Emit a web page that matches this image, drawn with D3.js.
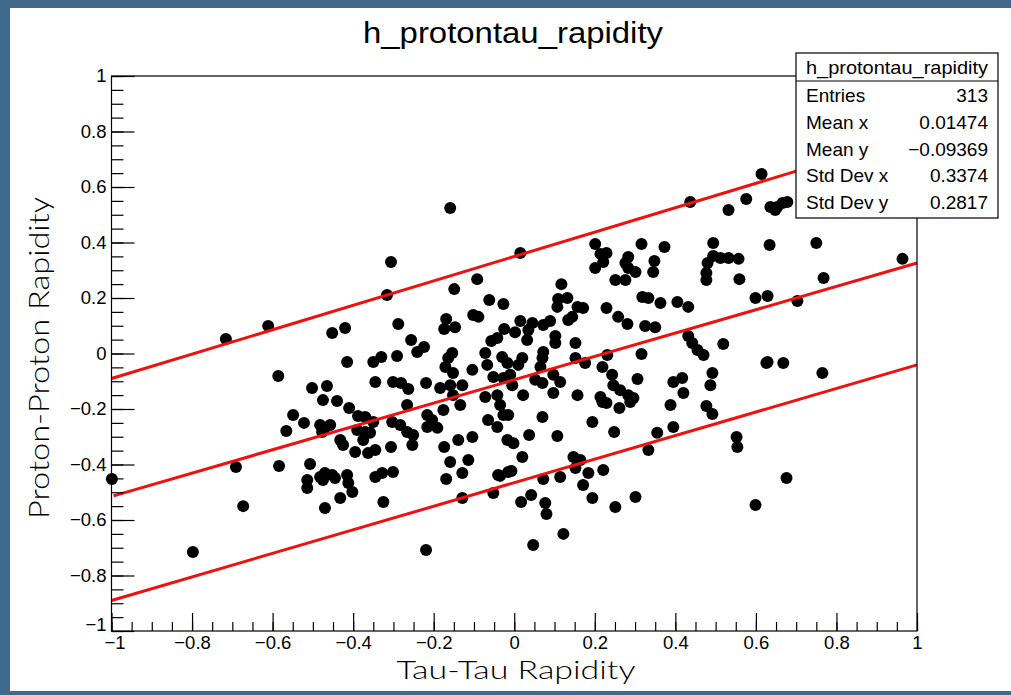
<!DOCTYPE html>
<html>
<head>
<meta charset="utf-8">
<script src="https://cdn.jsdelivr.net/npm/d3@7"></script>
<style>
  html, body { margin: 0; padding: 0; background: #3f6a8b; }
  svg { display: block; }
</style>
</head>
<body>
<svg id="chart"></svg>
<script>
// values
const chartTitle = "h_protontau_rapidity";
const xTitle = "Tau-Tau Rapidity";
const yTitle = "Proton-Proton Rapidity";

const majorTicks = [-1, -0.8, -0.6, -0.4, -0.2, 0, 0.2, 0.4, 0.6, 0.8, 1];

const statsLabels = ["Entries", "Mean x", "Mean y", "Std Dev x", "Std Dev y"];
const statsValues = ["313", "0.01474", "\u22120.09369", "0.3374", "0.2817"];

// [tau-tau rapidity, proton-proton rapidity]
const entries = [
  [-0.306,0.330],[-0.316,0.211],[-0.611,0.099],[-0.452,0.074],[-0.420,0.092],[-0.288,0.106],
  [-0.586,-0.081],[-0.502,-0.124],[-0.465,-0.117],[-0.415,-0.031],[-0.350,-0.031],[-0.330,-0.013],
  [-0.291,-0.009],[-0.256,0.049],[-0.241,0.005],[-0.224,0.023],[-0.345,-0.103],[-0.301,-0.103],
  [-0.281,-0.106],[-0.263,-0.128],[-0.219,-0.106],[-0.184,-0.124],[-0.149,0.232],[-0.092,0.268],
  [-0.062,0.193],[-0.027,0.178],[-0.169,0.124],[-0.174,0.088],[-0.147,0.095],[-0.102,0.139],
  [-0.089,0.132],[-0.025,0.088],[-0.057,0.045],[-0.042,0.056],[-0.154,0.002],[-0.164,-0.016],
  [-0.171,-0.049],[-0.152,-0.070],[-0.159,-0.114],[-0.129,-0.114],[-0.104,-0.059],[-0.072,0.002],
  [-0.067,-0.041],[-0.030,-0.013],[-0.017,-0.034],[-0.052,-0.085],[-0.027,-0.088],[-0.072,-0.157],
  [-0.042,-0.150],[-0.475,-0.168],[-0.440,-0.171],[-0.410,-0.196],[-0.549,-0.222],[-0.522,-0.250],
  [-0.566,-0.279],[-0.482,-0.258],[-0.470,-0.268],[-0.457,-0.258],[-0.477,-0.283],[-0.388,-0.225],
  [-0.370,-0.229],[-0.350,-0.247],[-0.390,-0.276],[-0.370,-0.283],[-0.358,-0.286],[-0.375,-0.312],
  [-0.432,-0.312],[-0.425,-0.330],[-0.395,-0.355],[-0.363,-0.359],[-0.345,-0.348],[-0.306,-0.337],
  [-0.266,-0.186],[-0.303,-0.247],[-0.283,-0.258],[-0.266,-0.283],[-0.251,-0.294],[-0.253,-0.330],
  [-0.216,-0.222],[-0.204,-0.240],[-0.216,-0.265],[-0.191,-0.268],[-0.176,-0.204],[-0.152,-0.150],
  [-0.134,-0.186],[-0.035,-0.186],[-0.027,-0.222],[-0.065,-0.240],[-0.042,-0.265],[-0.139,-0.312],
  [-0.104,-0.301],[-0.017,-0.312],[-0.174,-0.337],[-0.159,-0.391],[-0.114,-0.384],[-0.129,-0.431],
  [-0.169,-0.452],[-0.129,-0.521],[-0.052,-0.503],[-0.040,-0.438],[-0.015,-0.427],[-0.584,-0.405],
  [-0.507,-0.398],[-0.673,-0.550],[-0.514,-0.456],[-0.514,-0.485],[-0.482,-0.445],[-0.470,-0.431],
  [-0.452,-0.438],[-0.445,-0.449],[-0.475,-0.456],[-0.415,-0.438],[-0.412,-0.467],[-0.402,-0.499],
  [-0.432,-0.521],[-0.470,-0.557],[-0.345,-0.445],[-0.328,-0.431],[-0.301,-0.427],[-0.325,-0.535],
  [-0.219,-0.708],
  [0.015,0.362],[0.201,0.395],[0.214,0.359],[0.229,0.362],[0.201,0.308],[0.221,0.330],
  [0.316,0.395],[0.373,0.384],[0.348,0.333],[0.283,0.348],[0.276,0.326],[0.283,0.308],
  [0.301,0.294],[0.345,0.294],[0.251,0.265],[0.276,0.265],[0.494,0.398],[0.634,0.391],
  [0.494,0.351],[0.480,0.326],[0.512,0.344],[0.532,0.344],[0.557,0.341],[0.477,0.290],
  [0.477,0.265],[0.559,0.268],[0.599,0.200],[0.629,0.207],[0.117,0.250],[0.109,0.196],
  [0.132,0.200],[0.107,0.168],[0.157,0.168],[0.171,0.164],[0.144,0.132],[0.134,0.121],
  [0.229,0.164],[0.318,0.204],[0.333,0.200],[0.363,0.182],[0.405,0.186],[0.432,0.168],
  [0.258,0.132],[0.281,0.106],[0.325,0.099],[0.350,0.095],[0.432,0.063],[0.442,0.038],
  [0.455,0.013],[0.470,-0.005],[0.519,0.034],[0.626,-0.034],[0.015,0.117],[0.045,0.110],
  [0.072,0.103],[0.089,0.117],[0.035,0.085],[0.032,0.049],[0.002,0.077],[0.102,0.063],
  [0.102,0.038],[0.152,0.038],[0.072,0.005],[0.070,-0.016],[0.020,-0.016],[0.010,-0.041],
  [0.065,-0.049],[0.152,-0.016],[0.176,-0.034],[0.231,-0.005],[0.316,-0.002],[0.219,-0.049],
  [0.097,-0.077],[0.114,-0.103],[0.243,-0.077],[0.246,-0.114],[0.306,-0.092],[0.395,-0.103],
  [0.417,-0.088],[0.492,-0.070],[0.487,-0.114],[0.420,-0.142],[-0.010,-0.077],[-0.005,-0.114],
  [0.022,-0.150],[0.052,-0.095],[0.070,-0.106],[0.097,-0.142],[0.157,-0.150],[0.214,-0.157],
  [0.263,-0.132],[0.283,-0.150],[0.219,-0.175],[0.229,-0.178],[0.261,-0.196],[0.288,-0.175],
  [0.296,-0.160],[0.388,-0.186],[0.477,-0.189],[0.492,-0.218],[-0.015,-0.222],[0.070,-0.229],
  [0.194,-0.247],[0.037,-0.294],[0.107,-0.297],[-0.002,-0.323],[0.248,-0.283],[0.355,-0.286],
  [0.395,-0.265],[0.333,-0.348],[0.552,-0.301],[0.554,-0.337],[0.020,-0.373],[0.147,-0.373],
  [0.164,-0.384],[0.152,-0.413],[0.184,-0.431],[0.221,-0.420],[0.114,-0.445],[0.072,-0.452],
  [-0.007,-0.423],[-0.035,-0.441],[0.171,-0.474],[0.042,-0.510],[0.017,-0.535],[0.077,-0.539],
  [0.080,-0.578],[0.194,-0.521],[0.251,-0.553],[0.301,-0.517],[0.599,-0.546],[0.122,-0.650],
  [0.047,-0.690],
  [-0.159,0.524],[-0.716,0.052],[-0.999,-0.452],[-0.691,-0.409],[-0.798,-0.715],[0.614,0.647],
  [0.576,0.557],[0.532,0.517],[0.437,0.546],[0.636,0.528],[0.653,0.528],[0.666,0.542],
  [0.678,0.546],[0.648,0.517],[0.750,0.398],[0.964,0.341],[0.768,0.272],[0.703,0.189],
  [0.629,-0.031],[0.668,-0.034],[0.765,-0.070],[0.676,-0.449]
];

// red band lines: x ends and y ends
const bandX = [[-1, 1], [-0.995, 1], [-1, 1]];
const bandY = [[-0.09, 0.789], [-0.513, 0.326], [-0.89, -0.041]];

const W = 1011, H = 695;
const frame = { left: 111.5, right: 917, top: 76, bottom: 631 };

const svg = d3.select("#chart").attr("width", W).attr("height", H);

svg.append("rect").attr("width", W).attr("height", H).attr("fill", "#3f6a8b");
svg.append("rect")
  .attr("x", 10).attr("y", 8)
  .attr("width", W - 10).attr("height", 683)
  .attr("fill", "#ffffff");

const x = d3.scaleLinear().domain([-1, 1]).range([frame.left, frame.right]);
const y = d3.scaleLinear().domain([-1, 1]).range([frame.bottom, frame.top]);

const fmt = d3.format("~g");
const minorTicks = d3.range(-20, 21).map((i) => i / 20);

// markers
svg.append("g")
  .selectAll("circle")
  .data(entries)
  .join("circle")
  .attr("cx", (d) => x(d[0]))
  .attr("cy", (d) => y(d[1]))
  .attr("r", 6)
  .attr("fill", "#000");

// band lines
const lineGen = d3.line().x((d) => x(d[0])).y((d) => y(d[1]));
svg.append("g")
  .selectAll("path")
  .data(bandX.map((xs, i) => [[xs[0], bandY[i][0]], [xs[1], bandY[i][1]]]))
  .join("path")
  .attr("d", lineGen)
  .attr("fill", "none")
  .attr("stroke", "#f01010")
  .attr("stroke-width", 3);

// axes, ROOT style ticks pointing inward
const axisFont = "'Liberation Sans', Arial, Helvetica, sans-serif";

const xMinor = svg.append("g")
  .attr("transform", `translate(0,${frame.bottom})`)
  .call(d3.axisBottom(x).tickValues(minorTicks).tickSize(-9).tickFormat(""));
const xMajor = svg.append("g")
  .attr("transform", `translate(0,${frame.bottom})`)
  .call(d3.axisBottom(x).tickValues(majorTicks).tickSize(-18).tickPadding(5).tickFormat(fmt));
const yMinor = svg.append("g")
  .attr("transform", `translate(${frame.left},0)`)
  .call(d3.axisLeft(y).tickValues(minorTicks).tickSize(-12).tickFormat(""));
const yMajor = svg.append("g")
  .attr("transform", `translate(${frame.left},0)`)
  .call(d3.axisLeft(y).tickValues(majorTicks).tickSize(-23).tickPadding(5).tickFormat(fmt));

[xMinor, xMajor, yMinor, yMajor].forEach((g) => {
  g.select(".domain").remove();
  g.selectAll("line").attr("stroke", "#000").attr("stroke-width", 1.2);
  g.selectAll("text")
    .attr("fill", "#000")
    .attr("font-family", axisFont)
    .attr("font-size", 18.5);
});
xMajor.selectAll("text").attr("dy", "0.9em").attr("y", 1);
// corner labels nudged apart like ROOT does
xMajor.selectAll("text").filter((d) => d === -1).attr("x", 3);
yMajor.selectAll("text").filter((d) => d === -1).attr("y", -6);

svg.append("rect")
  .attr("x", frame.left).attr("y", frame.top)
  .attr("width", frame.right - frame.left)
  .attr("height", frame.bottom - frame.top)
  .attr("fill", "none")
  .attr("stroke", "#000")
  .attr("stroke-width", 1.2);

// title
svg.append("text")
  .attr("x", 513).attr("y", 43)
  .attr("text-anchor", "middle")
  .attr("font-family", axisFont)
  .attr("font-size", 30)
  .attr("textLength", 300)
  .attr("lengthAdjust", "spacingAndGlyphs")
  .text(chartTitle);

// axis titles
const titleFont = "Lato, 'Open Sans', sans-serif";
svg.append("text")
  .attr("x", 516).attr("y", 679)
  .attr("text-anchor", "middle")
  .attr("font-family", titleFont)
  .attr("font-weight", 300)
  .attr("font-size", 26)
  .attr("textLength", 239)
  .attr("lengthAdjust", "spacingAndGlyphs")
  .text(xTitle);

svg.append("text")
  .attr("transform", "translate(49,358) rotate(-90)")
  .attr("text-anchor", "middle")
  .attr("font-family", titleFont)
  .attr("font-weight", 300)
  .attr("font-size", 27)
  .attr("textLength", 322)
  .attr("lengthAdjust", "spacingAndGlyphs")
  .text(yTitle);

// stats box
const box = { x: 796, y: 53, w: 202, h: 165, head: 28 };
const stats = svg.append("g");
stats.append("rect")
  .attr("x", box.x).attr("y", box.y)
  .attr("width", box.w).attr("height", box.h)
  .attr("fill", "#fff")
  .attr("stroke", "#000")
  .attr("stroke-width", 1.2);
stats.append("line")
  .attr("x1", box.x).attr("x2", box.x + box.w)
  .attr("y1", box.y + box.head).attr("y2", box.y + box.head)
  .attr("stroke", "#000").attr("stroke-width", 1.2);
stats.append("text")
  .attr("x", box.x + box.w / 2).attr("y", box.y + 21)
  .attr("text-anchor", "middle")
  .attr("font-family", axisFont)
  .attr("font-size", 18.5)
  .attr("textLength", 182)
  .attr("lengthAdjust", "spacingAndGlyphs")
  .text(chartTitle);

const rowY = d3.scalePoint().domain(statsLabels).range([box.y + 49, box.y + 156]);
stats.selectAll("text.lab")
  .data(statsLabels)
  .join("text")
  .attr("class", "lab")
  .attr("x", box.x + 10)
  .attr("y", (d) => rowY(d))
  .attr("font-family", axisFont)
  .attr("font-size", 19)
  .text((d) => d);
stats.selectAll("text.val")
  .data(statsValues)
  .join("text")
  .attr("class", "val")
  .attr("x", box.x + box.w - 10)
  .attr("y", (d, i) => rowY(statsLabels[i]))
  .attr("text-anchor", "end")
  .attr("font-family", axisFont)
  .attr("font-size", 19)
  .text((d) => d);
</script>
</body>
</html>
